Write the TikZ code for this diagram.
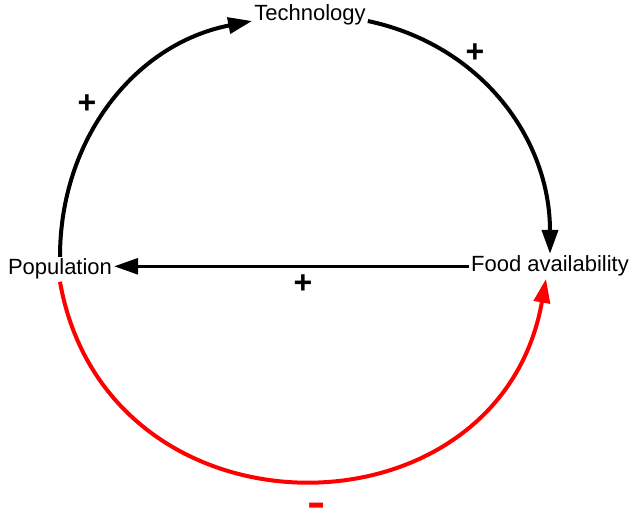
\documentclass[tikz,border=0pt]{standalone}
\usepackage{graphicx}
\usepackage{fontspec}
\setmainfont{Liberation Sans}
\usetikzlibrary{arrows.meta}

\tikzset{
  var/.style={inner sep=2pt, font=\fontsize{22}{26}\selectfont},
  sign/.style={inner sep=0pt, font=\fontsize{32}{36}\selectfont\bfseries},
  link/.style={line width=4pt, -{Triangle[length=24pt,width=16pt]}},
}

\begin{document}
\begin{tikzpicture}[x=1pt,y=-1pt]
  \useasboundingbox (0,0) rectangle (630,516);
  % variables
  \node[var, anchor=base] (tech) at (310,21) {Technology};
  \node[var, anchor=base] (pop) at (60,275) {Population};
  \node[var, anchor=base] (food) at (550,272) {Food availability};
  % causal links
  \draw[link] (pop.north) to[out=90, in=191] (tech.base west);
  \draw[link] (tech.base east) to[out=-12, in=90] (food.north);
  \draw[link, line width=3pt] (food.west) -- (food.west -| pop.east);
  \draw[link, red] (pop.south) to[out=-80, in=260, looseness=1.42] ([xshift=-4pt]food.south);
  % polarities
  \node[sign] (s1) at (87,104) {+};
  \node[sign] (s2) at (475,53) {+};
  \node[sign] (s3) at (303,284) {+};
  \node[sign, red, font=\fontsize{42}{44}\selectfont\bfseries, anchor=base] (s4) at (317,516) {\scalebox{1.3}[1]{-}};
\end{tikzpicture}
\end{document}
